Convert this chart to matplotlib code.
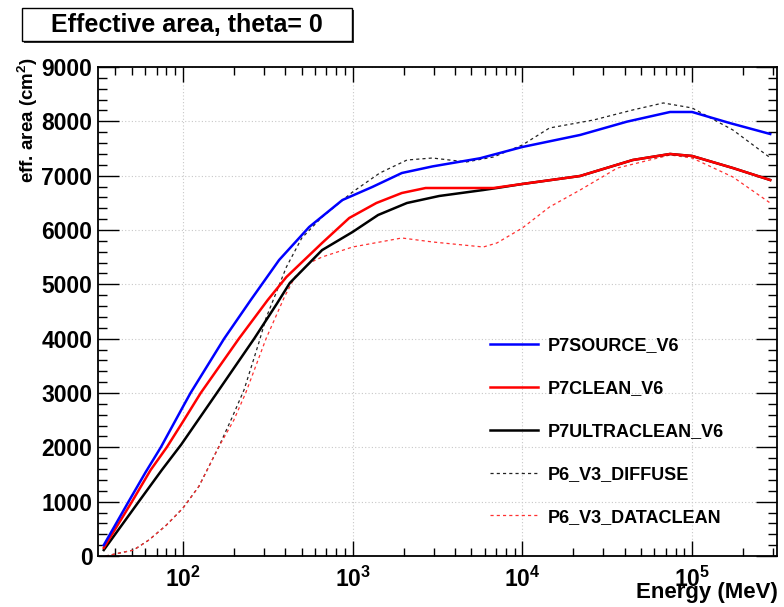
import numpy as np
import matplotlib
matplotlib.use("Agg")
import matplotlib.pyplot as plt
from matplotlib.patches import Rectangle
from matplotlib.ticker import FixedLocator, NullFormatter, MultipleLocator

plt.rcParams['font.family'] = ['Liberation Sans', 'DejaVu Sans']
plt.rcParams['font.weight'] = 'bold'
plt.rcParams['mathtext.fontset'] = 'custom'
plt.rcParams['mathtext.rm'] = 'Liberation Sans:bold'
plt.rcParams['mathtext.bf'] = 'Liberation Sans:bold'
plt.rcParams['mathtext.it'] = 'Liberation Sans:bold'

# ---- data (log10 of energy in MeV, effective area in cm^2) ----
src_logE = [1.534, 1.68, 1.78, 1.87, 2.0, 2.045, 2.243, 2.40, 2.567, 2.744, 2.94,
            3.116, 3.29, 3.47, 3.75, 4.0, 4.34, 4.616, 4.87, 5.0, 5.22, 5.46]
src_area = [200, 1000, 1540, 2000, 2745, 3000, 4000, 4712, 5448, 6055, 6552,
            6792, 7049, 7170, 7320, 7528, 7749, 7994, 8172, 8172, 7970, 7767]

clean_logE = [1.534, 1.70, 1.81, 1.905, 2.0, 2.105, 2.33, 2.50, 2.61, 2.82, 2.98,
              3.14, 3.29, 3.43, 3.83, 4.0, 4.34, 4.65, 4.87, 5.0, 5.24, 5.46]
clean_area = [150, 1000, 1583, 2000, 2470, 3000, 4000, 4712, 5135, 5761, 6221,
              6497, 6681, 6773, 6773, 6847, 6994, 7288, 7399, 7362, 7141, 6920]

ultra_logE = [1.534, 1.74, 1.876, 1.99, 2.2, 2.42, 2.555, 2.63, 2.82, 3.0, 3.15, 3.32,
              3.51, 3.77, 3.85, 4.0, 4.34, 4.65, 4.87, 5.0, 5.24, 5.46]
ultra_area = [110, 1000, 1583, 2050, 3000, 4000, 4650, 5025, 5630, 5964, 6276, 6497,
              6626, 6736, 6773, 6847, 6994, 7288, 7399, 7362, 7141, 6920]

diffuse_logE = [1.545, 1.71, 1.80, 1.90, 2.0, 2.094, 2.21, 2.29, 2.36, 2.41, 2.45,
                2.49, 2.61, 2.70, 2.82, 3.0, 3.16, 3.32, 3.47, 3.67, 3.83, 4.0, 4.16,
                4.42, 4.65, 4.83, 5.0, 5.24, 5.46]
diffuse_area = [0, 110, 295, 560, 880, 1280, 2000, 2550, 3055, 3550, 3950,
                4380, 5320, 5850, 6240, 6700, 7049, 7288, 7325, 7252, 7344, 7565, 7878,
                8025, 8209, 8338, 8246, 7841, 7330]

dataclean_logE = [1.545, 1.71, 1.80, 1.90, 2.0, 2.094, 2.21, 2.30, 2.37, 2.43, 2.49,
                  2.60, 2.66, 2.75, 2.82, 3.0, 3.29, 3.47, 3.77, 3.85, 4.0, 4.16, 4.34,
                  4.56, 4.87, 5.0, 5.24, 5.46]
dataclean_area = [0, 110, 295, 560, 880, 1280, 2000, 2500, 3000, 3500, 4000,
                  4780, 5135, 5400, 5503, 5687, 5853, 5780, 5687, 5761, 6037, 6424, 6736,
                  7141, 7381, 7325, 6976, 6497]

labels = ["P7SOURCE_V6", "P7CLEAN_V6", "P7ULTRACLEAN_V6", "P6_V3_DIFFUSE", "P6_V3_DATACLEAN"]
xticks_major = [1e2, 1e3, 1e4, 1e5]
xtick_labels = [r"$\mathbf{10^{2}}$", r"$\mathbf{10^{3}}$", r"$\mathbf{10^{4}}$", r"$\mathbf{10^{5}}$"]
yticks = [0, 1000, 2000, 3000, 4000, 5000, 6000, 7000, 8000, 9000]

# ---- figure ----
W, H = 784, 607
fig = plt.figure(figsize=(W / 100, H / 100), dpi=100)
L, R, T, B = 98, 777, 67, 556
ax = fig.add_axes([L / W, 1 - B / H, (R - L) / W, (B - T) / H])

ax.set_xscale('log')
ax.set_xlim(10 ** 1.5, 10 ** 5.5)
ax.set_ylim(0, 9000)

def E(lst):
    return 10 ** np.asarray(lst)

dash = (0, (2.5, 2.5))
h4, = ax.plot(E(diffuse_logE), diffuse_area, color='#222222', lw=0.9, ls=dash, zorder=2)
h5, = ax.plot(E(dataclean_logE), dataclean_area, color='#ff3030', lw=0.9, ls=dash, zorder=2)
h3, = ax.plot(E(ultra_logE), ultra_area, color='black', lw=1.8, zorder=3)
h2, = ax.plot(E(clean_logE), clean_area, color='#ff0000', lw=1.8, zorder=4)
h1, = ax.plot(E(src_logE), src_area, color='#0000ff', lw=1.8, zorder=5)

# ticks
ax.xaxis.set_major_locator(FixedLocator(xticks_major))
ax.set_xticklabels(xtick_labels)
minors = [m * 10 ** d for d in range(1, 6) for m in range(2, 10)]
ax.xaxis.set_minor_locator(FixedLocator(minors))
ax.xaxis.set_minor_formatter(NullFormatter())
ax.yaxis.set_major_locator(FixedLocator(yticks))
ax.set_yticklabels([str(v) for v in yticks])
ax.yaxis.set_minor_locator(MultipleLocator(200))

ax.tick_params(axis='x', which='major', direction='in', length=11, width=1.0,
               top=True, bottom=True, labelsize=16.5, pad=8)
ax.tick_params(axis='x', which='minor', direction='in', length=5.5, width=1.0,
               top=True, bottom=True)
ax.tick_params(axis='y', which='major', direction='in', length=15, width=1.0,
               left=True, right=True, labelsize=16.5, pad=4)
ax.tick_params(axis='y', which='minor', direction='in', length=6.5, width=1.0,
               left=True, right=True)
for lab in ax.get_xticklabels() + ax.get_yticklabels():
    lab.set_fontweight('bold')

ax.grid(True, which='major', color='#c8c8c8', ls=(0, (1, 2)), lw=0.8)
for s in ax.spines.values():
    s.set_linewidth(1.3)
    s.set_color('black')

# legend
leg = ax.legend([h1, h2, h3, h4, h5], labels, loc='upper left',
                bbox_to_anchor=((490 - L) / (R - L), (556 - 337.5) / (B - T)),
                frameon=False, fontsize=13, handlelength=2.66, handletextpad=0.55,
                labelspacing=1.43, borderpad=0, borderaxespad=0)
for t in leg.get_texts():
    t.set_fontweight('bold')

# axis titles
fig.text(28 / W, 1 - 57 / H, r"eff. area (cm$^{2}$)", rotation=90, ha='center', va='top',
         fontsize=13.5, fontweight='bold')
fig.text(778 / W, 1 - 598 / H, "Energy (MeV)", ha='right', va='baseline',
         fontsize=16, fontweight='bold')

# title box with shadow
bx0, by0, bx1, by1 = 22, 8, 352, 41
fig.patches.append(Rectangle(((bx0 + 2) / W, 1 - (by1 + 2) / H), (bx1 - bx0) / W, (by1 - by0) / H,
                             transform=fig.transFigure, facecolor='#333333', edgecolor='none', zorder=1))
fig.patches.append(Rectangle((bx0 / W, 1 - by1 / H), (bx1 - bx0) / W, (by1 - by0) / H,
                             transform=fig.transFigure, facecolor='white', edgecolor='black', lw=1.0, zorder=2))
fig.text((bx0 + bx1) / 2 / W, 1 - (by0 + by1) / 2 / H, "Effective area, theta= 0",
         ha='center', va='center', fontsize=18, fontweight='bold', zorder=3)

fig.savefig("out.png", dpi=100)
